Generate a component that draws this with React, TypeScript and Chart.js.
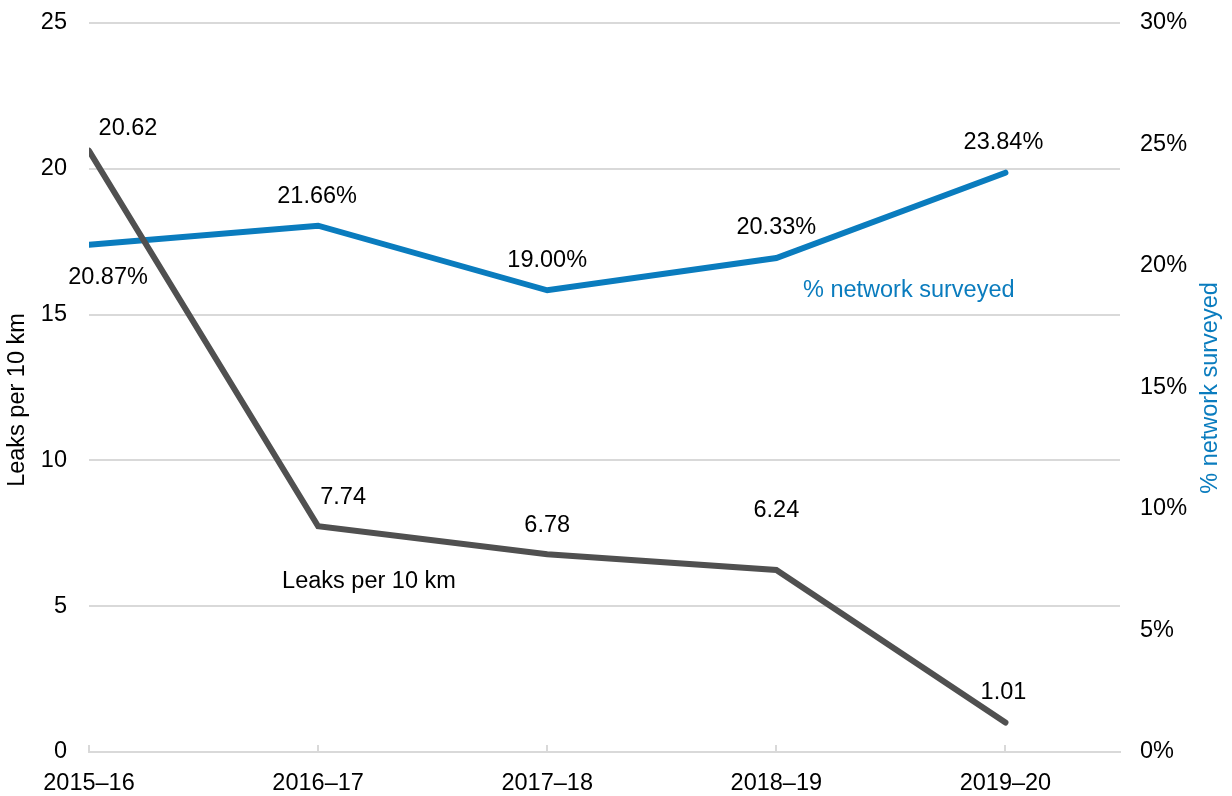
import React, { useEffect, useRef } from "react";
import { Chart, registerables } from "chart.js";

Chart.register(...registerables);

// ---- Data ----
const categories = ["2015–16", "2016–17", "2017–18", "2018–19", "2019–20"];
const leaksPer10km = [20.62, 7.74, 6.78, 6.24, 1.01];
const networkSurveyedPct = [20.87, 21.66, 19.0, 20.33, 23.84];
const leftTickValues = [0, 5, 10, 15, 20, 25];
const rightTickValues = [0, 5, 10, 15, 20, 25, 30];
const leaksSeriesName = "Leaks per 10 km";
const surveyedSeriesName = "% network surveyed";

// ---- Styles ----
const FONT = '"Liberation Sans", Arial, Helvetica, sans-serif';
const FONT_SIZE = 23.5;
const GRAY = "#505050";
const BLUE = "#0a7cbe";
const GRID = "#d9d9d9";

// label offsets (px) relative to each point
const leaksLabelOffsets = [
  [39, -22],
  [25, -29],
  [0, -29],
  [0, -60],
  [-2, -30],
];
const surveyedLabelOffsets = [
  [19, 33],
  [-1, -29],
  [0, -30],
  [0, -30],
  [-2, -30],
];

const labelPlugin = {
  id: "customLabels",
  beforeDatasetsDraw(chart: any) {
    const ctx = chart.ctx;
    const xs = chart.scales.x;
    const bottom = chart.chartArea.bottom;
    ctx.save();
    ctx.strokeStyle = GRID;
    ctx.lineWidth = 2;
    categories.forEach((_, i) => {
      const x = Math.round(xs.getPixelForValue(i));
      ctx.beginPath();
      ctx.moveTo(x, bottom);
      ctx.lineTo(x, bottom - 7);
      ctx.stroke();
    });
    ctx.restore();
  },
  afterDatasetsDraw(chart: any) {
    const ctx = chart.ctx;
    ctx.save();
    ctx.font = `${FONT_SIZE}px ${FONT}`;
    ctx.textAlign = "center";
    ctx.textBaseline = "middle";
    ctx.fillStyle = "#000";
    const m0 = chart.getDatasetMeta(0);
    m0.data.forEach((el: any, i: number) => {
      const [dx, dy] = leaksLabelOffsets[i];
      ctx.fillText(leaksPer10km[i].toFixed(2), el.x + dx, el.y + dy);
    });
    const m1 = chart.getDatasetMeta(1);
    m1.data.forEach((el: any, i: number) => {
      const [dx, dy] = surveyedLabelOffsets[i];
      ctx.fillText(networkSurveyedPct[i].toFixed(2) + "%", el.x + dx, el.y + dy);
    });
    // inline series names
    const xs = chart.scales.x;
    const yl = chart.scales.y;
    const yr = chart.scales.y1;
    ctx.fillStyle = "#000";
    ctx.fillText(leaksSeriesName, xs.getPixelForValue(1.222), yl.getPixelForValue(5.83));
    ctx.fillStyle = BLUE;
    ctx.fillText(surveyedSeriesName, xs.getPixelForValue(3.578), yr.getPixelForValue(19.0));
    // left axis title (reads bottom-to-top)
    ctx.save();
    ctx.fillStyle = "#000";
    ctx.translate(18, 400);
    ctx.rotate(-Math.PI / 2);
    ctx.fillText(leaksSeriesName, 0, 0);
    ctx.restore();
    // right axis title (reads bottom-to-top)
    ctx.fillStyle = BLUE;
    ctx.translate(1211, 388);
    ctx.rotate(-Math.PI / 2);
    ctx.fillText(surveyedSeriesName, 0, 0);
    ctx.restore();
  },
};

export default function App() {
  const canvasRef = useRef<HTMLCanvasElement | null>(null);

  useEffect(() => {
    if (!canvasRef.current) return;
    const chart = new Chart(canvasRef.current, {
      type: "line",
      data: {
        datasets: [
          {
            label: leaksSeriesName,
            data: leaksPer10km.map((v, i) => ({ x: i, y: v })),
            borderColor: GRAY,
            backgroundColor: GRAY,
            borderWidth: 6,
            pointRadius: 0,
            tension: 0,
            borderCapStyle: "round",
            yAxisID: "y",
          },
          {
            label: surveyedSeriesName,
            data: networkSurveyedPct.map((v, i) => ({ x: i, y: v })),
            borderColor: BLUE,
            backgroundColor: BLUE,
            borderWidth: 6,
            pointRadius: 0,
            tension: 0,
            borderCapStyle: "round",
            yAxisID: "y1",
          },
        ],
      },
      options: {
        animation: false,
        responsive: true,
        maintainAspectRatio: false,
        layout: { padding: { top: 23, left: 0, right: 0, bottom: 0 } },
        plugins: {
          legend: { display: false },
          tooltip: { enabled: false },
        },
        scales: {
          x: {
            type: "linear",
            min: 0,
            max: 4.5,
            offset: false,
            grid: { display: false, drawTicks: false },
            border: { display: true, color: GRID, width: 2 },
            afterBuildTicks: (scale: any) => {
              scale.ticks = categories.map((_, i) => ({ value: i }));
            },
            afterFit: (scale: any) => {
              scale.height = 44;
              scale.paddingLeft = 0;
              scale.paddingRight = 0;
            },
            ticks: {
              autoSkip: false,
              maxRotation: 0,
              padding: 17,
              color: "#000",
              font: { family: FONT, size: FONT_SIZE },
              callback: (v: any) => categories[v] ?? "",
            },
          },
          y: {
            type: "linear",
            position: "left",
            min: 0,
            max: 25,
            afterBuildTicks: (scale: any) => {
              scale.ticks = leftTickValues.map((v) => ({ value: v }));
            },
            afterFit: (scale: any) => {
              scale.width = 89;
              scale.paddingTop = 0;
              scale.paddingBottom = 0;
            },
            grid: { color: GRID, lineWidth: 2, drawTicks: false },
            border: { display: false },
            ticks: {
              padding: 22,
              color: "#000",
              font: { family: FONT, size: FONT_SIZE },
            },
          },
          y1: {
            type: "linear",
            position: "right",
            min: 0,
            max: 30,
            afterBuildTicks: (scale: any) => {
              scale.ticks = rightTickValues.map((v) => ({ value: v }));
            },
            afterFit: (scale: any) => {
              scale.width = 112;
              scale.paddingTop = 0;
              scale.paddingBottom = 0;
            },
            grid: { display: false, drawTicks: false },
            border: { display: false },
            ticks: {
              padding: 20,
              color: "#000",
              font: { family: FONT, size: FONT_SIZE },
              callback: (v: any) => `${v}%`,
            },
          },
        },
      },
      plugins: [labelPlugin],
    } as any);
    return () => chart.destroy();
  }, []);

  return (
    <div style={{ position: "absolute", left: 0, top: 0, width: 1232, height: 796 }}>
      <canvas ref={canvasRef} />
    </div>
  );
}
